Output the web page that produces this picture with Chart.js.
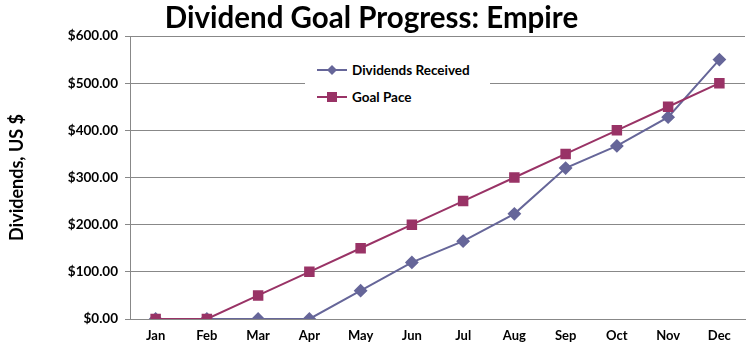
<!DOCTYPE html>
<html><head><meta charset="utf-8">
<script src="https://cdn.jsdelivr.net/npm/chart.js@4/dist/chart.umd.min.js"></script>
<style>
html,body{margin:0;padding:0;background:#fff;}
#wrap{position:relative;width:753px;height:358px;}
#title{position:absolute;left:0;width:743px;top:-1px;text-align:center;font:bold 29.5px Lato,sans-serif;color:#000;white-space:nowrap;}
#legend{position:absolute;left:305px;top:56px;width:185px;height:54px;background:#fff;font:bold 13.5px Lato,sans-serif;color:#000;}
#legend .row{position:absolute;left:12px;height:20px;display:flex;align-items:center;}
#legend svg{margin-right:5px;}
</style></head>
<body>
<div id="wrap">
<canvas id="c" width="753" height="358"></canvas>
<div id="title">Dividend Goal Progress: Empire</div>
<div id="legend">
 <div class="row" style="top:4px"><svg width="30" height="14"><line x1="0" y1="7" x2="30" y2="7" stroke="#666699" stroke-width="2"/><polygon points="15,2 20,7 15,12 10,7" fill="#666699"/></svg>Dividends Received</div>
 <div class="row" style="top:31px"><svg width="30" height="14"><line x1="0" y1="7" x2="30" y2="7" stroke="#993366" stroke-width="2"/><rect x="10" y="2" width="10" height="10" fill="#993366"/></svg>Goal Pace</div>
</div>
</div>
<script>
const months = ["Jan","Feb","Mar","Apr","May","Jun","Jul","Aug","Sep","Oct","Nov","Dec"];
const dividendsReceived = [0,0,0,0,60,120,165,223,320,367,428,550];
const goalPace = [0,0,50,100,150,200,250,300,350,400,450,500];
const yTicks = [0,100,200,300,400,500,600];
const FONT = "Lato, sans-serif";

new Chart(document.getElementById('c'), {
  type: 'line',
  data: {
    labels: months,
    datasets: [
      {label:'Dividends Received', data: dividendsReceived, borderColor:'#666699', backgroundColor:'#666699',
       borderWidth:2, pointStyle:'rectRot', pointRadius:5.5, pointHoverRadius:5.5, tension:0, order:2},
      {label:'Goal Pace', data: goalPace, borderColor:'#993366', backgroundColor:'#993366',
       borderWidth:2, pointStyle:'rect', pointRadius:6, pointHoverRadius:6, tension:0, order:1}
    ]
  },
  options: {
    responsive:false, animation:false,
    layout:{padding:{top:36,left:0,right:5,bottom:0}},
    plugins:{legend:{display:false}, title:{display:false}, tooltip:{enabled:false}},
    scales:{
      x:{
        offset:true,
        grid:{display:false, drawTicks:false},
        border:{display:true,color:'#888888',width:1},
        ticks:{color:'#000',font:{family:FONT,weight:'bold',size:13},padding:9,maxRotation:0,autoSkip:false},
        afterFit(s){ s.height = 39; }
      },
      y:{
        min:0,max:600,
        afterBuildTicks(s){ s.ticks = yTicks.map(v=>({value:v})); },
        grid:{color:'#888888',lineWidth:1,tickLength:5,drawTicks:true},
        border:{display:true,color:'#888888',width:1},
        ticks:{color:'#000',font:{family:FONT,weight:'bold',size:13.5},padding:7,
          callback:v=>'$'+Number(v).toFixed(2)},
        title:{display:true,text:'Dividends, US $',color:'#000',font:{family:FONT,weight:'bold',size:18},padding:{top:6,bottom:0}},
        afterFit(s){ s.width = 130; }
      }
    }
  }
});
</script>
</body></html>
